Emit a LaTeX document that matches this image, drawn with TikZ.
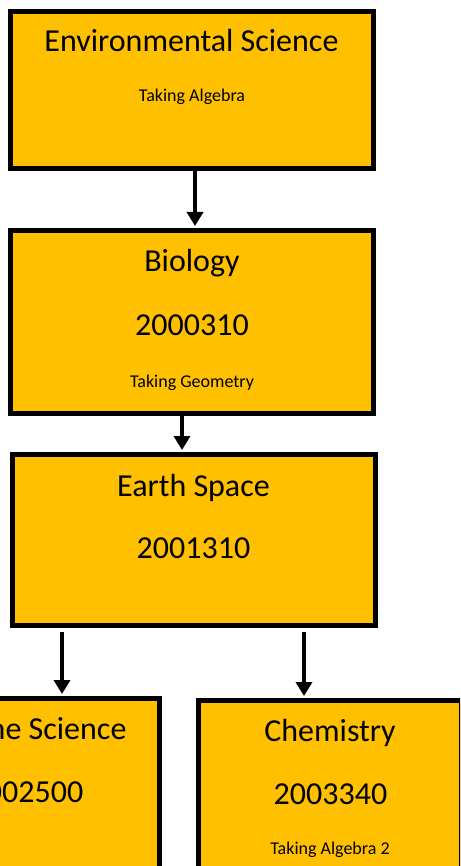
\documentclass[tikz,border=0pt]{standalone}
\usepackage{fontspec}
\setmainfont{Carlito}
\usetikzlibrary{positioning,arrows.meta}
\definecolor{gold}{HTML}{FFC000}

\begin{document}
\begin{tikzpicture}[x=1pt, y=-1pt,
  course/.style={draw=black, line width=5pt, fill=gold, inner sep=0pt},
  big/.style={font=\fontsize{32}{36}\selectfont, anchor=base},
  small/.style={font=\fontsize{18}{20}\selectfont, anchor=base},
  link/.style={-{Triangle[length=14pt,width=16pt]}, line width=4.5pt, shorten >=2pt}]

\useasboundingbox (0,0) rectangle (460,866);
\clip (0,0) rectangle (460,866);

% Step 1 
\path
(192,90)  node[course, minimum width=363pt, minimum height=157pt] (env) {}
(192,322) node[course, minimum width=363pt, minimum height=183pt] (bio) {}
(194,540) node[course, minimum width=363pt, minimum height=171pt] (earth) {}
(28,790)  node[course, minimum width=263pt, minimum height=183pt] (marine) {}
(330,792) node[course, minimum width=263pt, minimum height=183pt] (chem) {}
;

% texts
\path
(191.5,52)  node[big]   (env_name) {Environmental Science}
(192,102)   node[small] (env_note) {Taking Algebra}
(192,272)   node[big]   (bio_name) {Biology}
(192,335)   node[big]   (bio_code) {2000310}
(192,387)   node[small] (bio_note) {Taking Geometry}
(193.5,496) node[big]   (earth_name) {Earth Space}
(193.5,558) node[big]   (earth_code) {2001310}
(27,739)    node[big]   (marine_name) {Marine Science}
(26.5,802)  node[big]   (marine_code) {2002500}
(330,741)   node[big]   (chem_name) {Chemistry}
(330.5,804) node[big]   (chem_code) {2003340}
(330,854)   node[small] (chem_note) {Taking Algebra 2}
;

% arrows
\coordinate (split1) at (62,632);
\coordinate (split2) at (304,632);

\draw[link] ([xshift=3pt]env.south) -- ([xshift=3pt]bio.north);
\draw[link] ([xshift=-10pt]bio.south) -- ([xshift=-12pt]earth.north);
\draw[link] (split1) -- (split1 |- marine.north);
\draw[link] (split2) -- (split2 |- chem.north);

\end{tikzpicture}
\end{document}
